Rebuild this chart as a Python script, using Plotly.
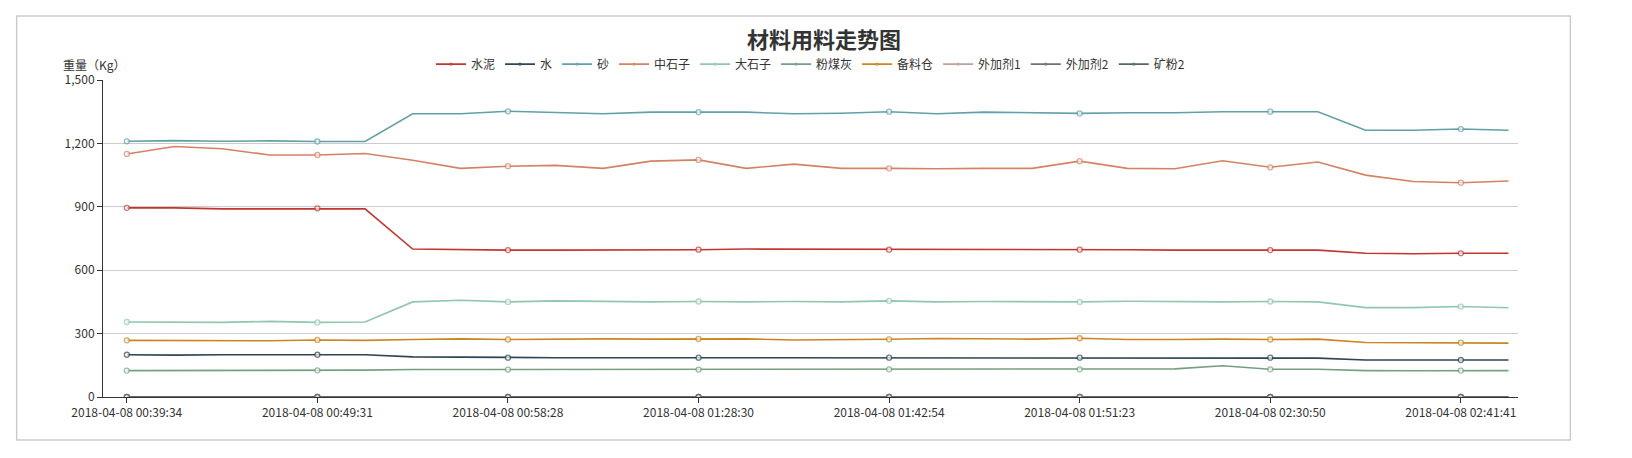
import plotly.graph_objects as go

tick_labels = ['2018-04-08 00:39:34', '2018-04-08 00:49:31', '2018-04-08 00:58:28', '2018-04-08 01:28:30',
               '2018-04-08 01:42:54', '2018-04-08 01:51:23', '2018-04-08 02:30:50', '2018-04-08 02:41:41']

names = ['水泥', '水', '砂', '中石子', '大石子', '粉煤灰', '备料仓', '外加剂1', '外加剂2', '矿粉2']
colors = ['#c23531', '#2f4554', '#61a0a8', '#d48265', '#91c7ae', '#749f83', '#ca8622', '#bda29a', '#6e7074', '#546570']

cement = [895, 895, 890, 890, 893, 890, 700, 697, 695, 695, 695, 697, 697, 700, 700, 697, 697, 697, 700, 697,
          697, 697, 695, 695, 695, 695, 680, 678, 680, 680]
water = [200, 198, 200, 200, 200, 200, 190, 188, 186, 186, 186, 186, 186, 186, 186, 186, 186, 186, 186, 186,
         186, 186, 186, 186, 186, 184, 175, 175, 175, 175]
sand = [1210, 1213, 1210, 1212, 1209, 1209, 1340, 1340, 1352, 1345, 1340, 1348, 1348, 1348, 1340, 1343, 1350, 1340,
        1348, 1345, 1342, 1345, 1345, 1350, 1350, 1350, 1262, 1262, 1268, 1262]
mid_stone = [1150, 1185, 1175, 1145, 1145, 1152, 1120, 1082, 1092, 1096, 1082, 1116, 1122, 1082, 1102, 1082, 1082,
             1080, 1082, 1082, 1116, 1082, 1080, 1118, 1087, 1112, 1050, 1020, 1014, 1022]
big_stone = [355, 355, 353, 358, 353, 355, 450, 458, 450, 455, 453, 450, 452, 450, 452, 450, 455, 450, 452, 450,
             450, 453, 450, 450, 452, 450, 423, 423, 428, 422]
fly_ash = [125, 125, 124, 124, 126, 127, 130, 130, 130, 130, 130, 131, 130, 131, 131, 131, 131, 131, 131, 131,
           131, 132, 133, 148, 131, 131, 125, 124, 125, 125]
bin_stock = [268, 268, 266, 266, 270, 268, 272, 275, 272, 275, 275, 274, 275, 275, 270, 270, 273, 277, 275, 274,
             278, 272, 272, 274, 272, 274, 258, 258, 257, 255]
additive1 = [0] * 30
additive2 = [0] * 30
slag2 = [0] * 30

series = [cement, water, sand, mid_stone, big_stone, fly_ash, bin_stock, additive1, additive2, slag2]

x = list(range(30))
sizes = [5 if i % 4 == 0 else 0 for i in x]

fig = go.Figure()
for name, color, vals in zip(names, colors, series):
    fig.add_trace(go.Scatter(
        x=x, y=vals, name=name, mode='lines+markers',
        line=dict(color=color, width=1.6),
        marker=dict(size=sizes, color='white', line=dict(color=color, width=1.3))
    ))

fig.update_layout(
    width=1632, height=458,
    paper_bgcolor='white', plot_bgcolor='white',
    font=dict(family='Noto Sans CJK SC', size=12, color='#333'),
    margin=dict(l=95, r=122, t=72, b=69, autoexpand=False),
    title=dict(text='<b>材料用料走势图</b>', x=0.5, y=0.93, xanchor='center', yanchor='middle',
               font=dict(size=22, color='#333')),
    legend=dict(orientation='h', x=0.5, xanchor='center', y=1.05, yanchor='middle',
                font=dict(size=12, color='#333'), itemwidth=30, bgcolor='rgba(0,0,0,0)'),
    xaxis=dict(range=[-0.5, 29.2], tickmode='array', tickvals=list(range(0, 30, 4)), ticktext=tick_labels,
               showgrid=False, zeroline=False, showline=True, linecolor='#333', ticks='outside',
               ticklen=5, tickcolor='#333'),
    yaxis=dict(range=[0, 1500], dtick=300, tickformat=',', showgrid=True, gridcolor='#ccc',
               zeroline=False, showline=True, linecolor='#333', ticks='outside', ticklen=5, tickcolor='#333'),
    shapes=[dict(type='rect', xref='paper', yref='paper', x0=-0.061, x1=1.037, y0=-0.136, y1=1.202,
                 line=dict(color='#ccc', width=1.5))],
    annotations=[dict(text='重量（Kg）', xref='paper', yref='paper', x=-0.03, y=1.05, showarrow=False,
                      xanchor='left', yanchor='middle', font=dict(size=12, color='#333'))],
)

fig.write_html("out.html")
